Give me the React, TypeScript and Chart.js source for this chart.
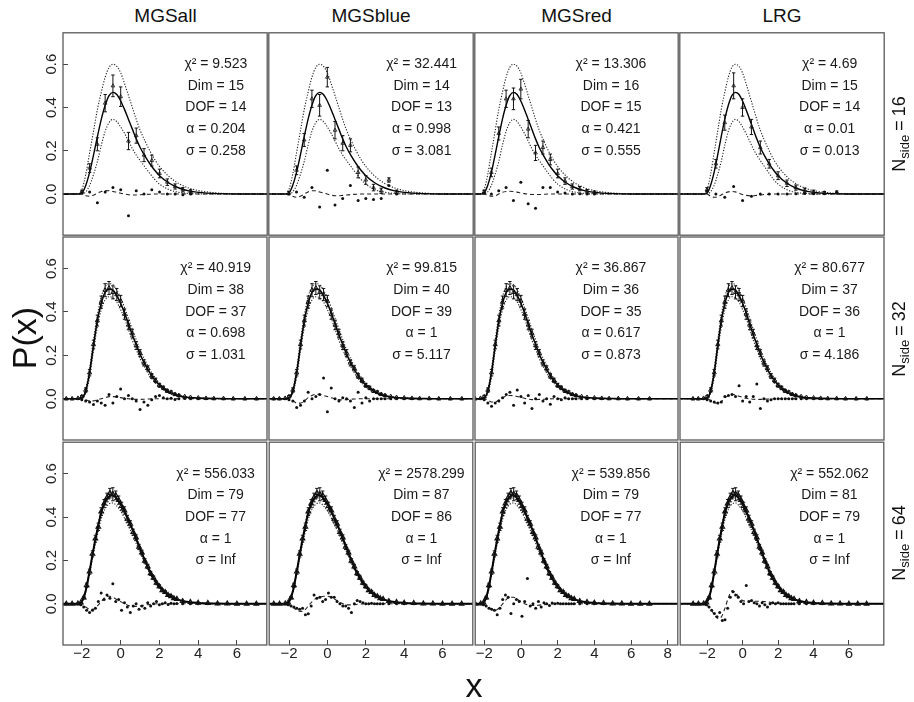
import React, { useEffect, useRef } from "react";
import { Chart, registerables } from "chart.js";

Chart.register(...registerables);

const FONT = '"Liberation Sans", Arial, Helvetica, sans-serif';

// ---------- categories / labels ----------
const groups = ["MGSall", "MGSblue", "MGSred", "LRG"];
const nsides = [16, 32, 64];
const xRanges = [[-2.97, 7.54], [-3.04, 7.58], [-2.5, 8.55], [-3.53, 7.97]];
const yRange = [-0.19, 0.745];
const xTicksByCol = [[-2, 0, 2, 4, 6], [-2, 0, 2, 4, 6], [-2, 0, 2, 4, 6, 8], [-2, 0, 2, 4, 6]];
const yTicks = [0, 0.2, 0.4, 0.6];

// annotation values (row-major: rows N=16,32,64; cols MGSall, MGSblue, MGSred, LRG)
const chi2Vals = ["9.523", "32.441", "13.306", "4.69", "40.919", "99.815", "36.867", "80.677", "556.033", "2578.299", "539.856", "552.062"];
const dimVals = [15, 14, 16, 15, 38, 40, 36, 37, 79, 87, 79, 81];
const dofVals = [14, 13, 15, 14, 37, 39, 35, 36, 77, 86, 77, 79];
const alphaVals = ["0.204", "0.998", "0.421", "0.01", "0.698", "1", "0.617", "1", "1", "1", "1", "1"];
const sigmaVals = ["0.258", "3.081", "0.555", "0.013", "1.031", "5.117", "0.873", "4.186", "Inf", "Inf", "Inf", "Inf"];
const labelX = 4.9;
const labelYs = [0.6, 0.5, 0.4, 0.3, 0.2];

// ---------- curves (fit, envelopes, smoothed residual) ----------
const curveX = [-3.6, -2.4, -2.2, -2.0, -1.8, -1.6, -1.4, -1.2, -1.0, -0.8, -0.6, -0.4, -0.2, 0.0, 0.2, 0.4, 0.6, 0.8, 1.0, 1.25, 1.5, 1.75, 2.0, 2.5, 3.0, 3.5, 4.0, 5.0, 6.0, 7.0, 9.0];

const fitR1 = [0, 0, 0, 0.005, 0.04, 0.1, 0.18, 0.265, 0.345, 0.41, 0.455, 0.47, 0.46, 0.43, 0.39, 0.345, 0.3, 0.255, 0.215, 0.175, 0.14, 0.11, 0.085, 0.05, 0.028, 0.015, 0.008, 0.002, 0, 0, 0];
const upperR1 = [0, 0, 0, 0.02, 0.09, 0.19, 0.29, 0.39, 0.47, 0.54, 0.585, 0.6, 0.59, 0.56, 0.51, 0.455, 0.4, 0.345, 0.295, 0.245, 0.2, 0.16, 0.128, 0.08, 0.048, 0.028, 0.016, 0.005, 0.001, 0, 0];
const lowerR1 = [0, 0, 0, 0, 0.01, 0.04, 0.09, 0.15, 0.225, 0.29, 0.33, 0.345, 0.335, 0.31, 0.28, 0.245, 0.21, 0.18, 0.155, 0.125, 0.095, 0.068, 0.046, 0.02, 0.008, 0.003, 0.001, 0, 0, 0, 0];

const fitR2 = [0, 0, 0, 0.004, 0.035, 0.12, 0.245, 0.36, 0.44, 0.49, 0.505, 0.5, 0.475, 0.44, 0.395, 0.345, 0.295, 0.25, 0.205, 0.16, 0.12, 0.088, 0.063, 0.03, 0.014, 0.006, 0.003, 0.001, 0, 0, 0];
const upperR2 = [0, 0, 0, 0.006, 0.045, 0.14, 0.27, 0.385, 0.47, 0.515, 0.53, 0.525, 0.5, 0.465, 0.42, 0.37, 0.32, 0.272, 0.225, 0.178, 0.135, 0.1, 0.072, 0.036, 0.017, 0.008, 0.004, 0.001, 0, 0, 0];
const lowerR2 = [0, 0, 0, 0.002, 0.025, 0.1, 0.22, 0.33, 0.41, 0.455, 0.47, 0.465, 0.445, 0.41, 0.37, 0.32, 0.27, 0.228, 0.185, 0.142, 0.105, 0.076, 0.054, 0.025, 0.011, 0.005, 0.002, 0, 0, 0, 0];

const fitR3 = [0, 0, 0, 0.01, 0.06, 0.15, 0.25, 0.34, 0.42, 0.47, 0.495, 0.5, 0.485, 0.46, 0.425, 0.385, 0.345, 0.3, 0.255, 0.2, 0.15, 0.11, 0.078, 0.038, 0.018, 0.008, 0.004, 0.001, 0, 0, 0];
const upperR3 = [0, 0, 0, 0.011, 0.063, 0.155, 0.258, 0.35, 0.433, 0.484, 0.51, 0.515, 0.5, 0.474, 0.438, 0.397, 0.355, 0.309, 0.263, 0.206, 0.155, 0.113, 0.08, 0.039, 0.019, 0.008, 0.004, 0.001, 0, 0, 0];
const lowerR3 = [0, 0, 0, 0.008, 0.052, 0.138, 0.232, 0.316, 0.39, 0.437, 0.46, 0.465, 0.451, 0.428, 0.395, 0.358, 0.321, 0.279, 0.237, 0.186, 0.14, 0.102, 0.072, 0.035, 0.017, 0.007, 0.004, 0.001, 0, 0, 0];

const dashAllR1 = [0, 0, 0, 0, -0.008, -0.01, -0.005, 0.004, 0.012, 0.016, 0.015, 0.012, 0.008, 0.004, 0.0, -0.003, -0.004, -0.004, -0.003, -0.002, -0.001, 0, 0, 0, 0, 0, 0, 0, 0, 0, 0];
const dashBlueR1 = [0, 0, 0, 0, -0.01, -0.015, -0.01, 0.0, 0.01, 0.015, 0.015, 0.01, 0.005, 0.0, -0.005, -0.008, -0.008, -0.006, -0.004, -0.002, -0.001, 0, 0, 0, 0, 0, 0, 0, 0, 0, 0];
const dashRedR1 = [0, 0, 0, 0, -0.005, -0.01, -0.008, 0.0, 0.008, 0.012, 0.013, 0.012, 0.009, 0.005, 0.002, 0.0, -0.002, -0.002, -0.002, -0.001, 0, 0, 0, 0, 0, 0, 0, 0, 0, 0, 0];
const dashLrgR1 = [0, 0, 0, 0, -0.01, -0.015, -0.012, -0.004, 0.004, 0.01, 0.012, 0.01, 0.004, -0.002, -0.006, -0.008, -0.008, -0.006, -0.004, -0.002, -0.001, 0, 0, 0, 0, 0, 0, 0, 0, 0, 0];
const dashAllR2 = [0, 0, 0, 0, -0.005, -0.01, -0.01, -0.005, 0.0, 0.005, 0.01, 0.01, 0.008, 0.005, 0.002, 0.0, -0.002, -0.003, -0.003, -0.002, -0.001, 0, 0, 0, 0, 0, 0, 0, 0, 0, 0];
const dashBlueR2 = [0, 0, 0, 0, -0.008, -0.02, -0.02, -0.01, 0.005, 0.015, 0.02, 0.02, 0.015, 0.01, 0.005, 0.0, -0.004, -0.005, -0.004, -0.002, -0.001, 0, 0, 0, 0, 0, 0, 0, 0, 0, 0];
const dashRedR2 = [0, 0, 0, 0, -0.006, -0.015, -0.015, -0.006, 0.004, 0.012, 0.015, 0.014, 0.01, 0.006, 0.002, -0.002, -0.004, -0.004, -0.003, -0.002, -0.001, 0, 0, 0, 0, 0, 0, 0, 0, 0, 0];
const dashLrgR2 = [0, 0, 0, 0, -0.008, -0.018, -0.02, -0.012, 0.004, 0.015, 0.02, 0.018, 0.012, 0.006, 0.002, 0.0, -0.002, -0.003, -0.003, -0.002, -0.001, 0, 0, 0, 0, 0, 0, 0, 0, 0, 0];
const dashAllR3 = [0, 0, 0, -0.005, -0.015, -0.025, -0.025, -0.01, 0.01, 0.03, 0.035, 0.03, 0.02, 0.01, 0.0, -0.008, -0.012, -0.012, -0.01, -0.006, -0.003, -0.001, 0, 0, 0, 0, 0, 0, 0, 0, 0];
const dashBlueR3 = [0, 0, 0, -0.005, -0.015, -0.03, -0.035, -0.03, -0.01, 0.01, 0.025, 0.03, 0.035, 0.035, 0.03, 0.02, 0.01, 0.0, -0.005, -0.005, -0.003, -0.001, 0, 0, 0, 0, 0, 0, 0, 0, 0];
const dashRedR3 = [0, 0, 0, -0.005, -0.015, -0.025, -0.03, -0.02, 0.0, 0.02, 0.03, 0.03, 0.02, 0.01, 0.0, -0.005, -0.008, -0.008, -0.006, -0.004, -0.002, 0, 0, 0, 0, 0, 0, 0, 0, 0, 0];
const dashLrgR3 = [0, 0, 0, -0.008, -0.025, -0.05, -0.068, -0.06, -0.02, 0.03, 0.06, 0.05, 0.03, 0.015, 0.012, 0.012, 0.012, 0.012, 0.012, 0.01, 0.008, 0.004, 0.002, 0, 0, 0, 0, 0, 0, 0, 0];

// ---------- binned data points, error bars, residuals ----------
const binsR1 = [-2.0, -1.6, -1.2, -0.8, -0.4, 0.0, 0.4, 0.8, 1.2, 1.6, 2.0, 2.4, 2.8, 3.2, 3.6];
const errR1 = [0.008, 0.02, 0.03, 0.04, 0.05, 0.045, 0.04, 0.035, 0.03, 0.025, 0.02, 0.015, 0.012, 0.01, 0.008];
const dataAllR1 = [0.01, 0.12, 0.23, 0.42, 0.5, 0.45, 0.245, 0.27, 0.18, 0.155, 0.095, 0.055, 0.035, 0.02, 0.012];
const residAllR1 = [0.005, 0.01, -0.04, 0.01, 0.03, 0.02, -0.1, 0.015, 0.0, 0.02, 0.01, 0.0, 0.0, -0.003, 0.0];
const dataBlueR1 = [0.005, 0.11, 0.25, 0.44, 0.41, 0.54, 0.295, 0.235, 0.225, 0.1, 0.065, 0.03, 0.015, 0.065, 0.01];
const residBlueR1 = [0.0, 0.01, -0.015, 0.03, -0.06, 0.11, -0.05, -0.02, 0.04, -0.03, -0.02, -0.025, -0.02, 0.04, 0.0];
const binsR1Red = [-2.0, -1.6, -1.2, -0.8, -0.4, 0.0, 0.4, 0.8, 1.2, 1.6, 2.0, 2.4, 2.8, 3.2, 3.6, 4.0];
const errR1Red = [0.008, 0.02, 0.03, 0.04, 0.05, 0.045, 0.04, 0.035, 0.03, 0.025, 0.02, 0.015, 0.012, 0.01, 0.008, 0.006];
const dataRedR1 = [0.01, 0.1, 0.28, 0.44, 0.44, 0.485, 0.3, 0.19, 0.215, 0.16, 0.095, 0.06, 0.035, 0.025, 0.013, 0.008];
const residRedR1 = [0.005, 0.0, 0.015, 0.03, -0.03, 0.055, -0.045, -0.065, 0.03, 0.03, 0.01, 0.005, 0.0, 0.002, 0.0, 0.0];
const binsR1Lrg = [-2.0, -1.5, -1.0, -0.5, 0.0, 0.5, 1.0, 1.5, 2.0, 2.5, 3.0, 3.5, 4.0, 4.6, 5.3];
const errR1Lrg = [0.01, 0.02, 0.035, 0.06, 0.04, 0.035, 0.03, 0.02, 0.018, 0.015, 0.012, 0.01, 0.008, 0.006, 0.006];
const dataLrgR1 = [0.02, 0.14, 0.33, 0.5, 0.4, 0.31, 0.215, 0.14, 0.085, 0.05, 0.03, 0.018, 0.01, 0.006, 0.008];
const residLrgR1 = [0.015, 0.0, -0.015, 0.035, -0.03, -0.01, 0.0, 0.0, 0.0, 0.0, 0.002, 0.003, 0.002, 0.002, 0.007];

const binsR2 = [-2.8, -2.5, -2.2, -2.0, -1.8, -1.6, -1.4, -1.2, -1.0, -0.8, -0.6, -0.4, -0.2, 0.0, 0.2, 0.4, 0.6, 0.8, 1.0, 1.2, 1.4, 1.6, 1.8, 2.0, 2.2, 2.4, 2.6, 2.8, 3.0, 3.3, 3.6, 4.0, 4.4, 4.8, 5.3, 5.8, 6.4, 7.0];
const dataR2 = [0, 0, 0.002, 0.01, 0.04, 0.12, 0.25, 0.36, 0.445, 0.5, 0.51, 0.49, 0.48, 0.45, 0.39, 0.34, 0.3, 0.245, 0.21, 0.165, 0.14, 0.105, 0.085, 0.062, 0.05, 0.036, 0.03, 0.02, 0.015, 0.01, 0.006, 0.004, 0.002, 0.001, 0.001, 0, 0, 0];
const errR2 = [0.002, 0.002, 0.003, 0.005, 0.01, 0.015, 0.02, 0.025, 0.028, 0.03, 0.03, 0.03, 0.028, 0.026, 0.024, 0.022, 0.02, 0.018, 0.016, 0.014, 0.012, 0.011, 0.01, 0.009, 0.008, 0.007, 0.006, 0.005, 0.005, 0.004, 0.004, 0.003, 0.003, 0.002, 0.002, 0.002, 0.002, 0.002];
const residAllR2 = [0, 0, 0, -0.005, -0.01, -0.015, -0.027, -0.01, -0.02, -0.03, 0.02, -0.02, 0.01, 0.045, 0.0, 0.015, 0.0, -0.01, -0.05, -0.015, -0.03, -0.005, 0.01, 0.015, 0.005, 0.0, 0.002, -0.003, 0.0, 0.001, 0, 0, 0, 0, 0, 0, 0, 0];
const residBlueR2 = [0, 0, 0, -0.005, -0.01, -0.04, -0.03, -0.01, 0.03, 0.0, 0.01, 0.02, 0.095, -0.06, 0.05, 0.0, -0.01, 0.005, 0.0, -0.01, -0.04, 0.03, -0.02, 0.005, -0.01, 0.0, 0.0, 0.0, 0.0, 0, 0, 0, 0, 0, 0, 0, 0, 0];
const residRedR2 = [0, 0, 0, -0.005, -0.02, -0.035, -0.02, -0.01, 0.005, 0.02, 0.03, -0.03, 0.04, 0.01, -0.02, 0.015, -0.045, 0.0, 0.02, -0.01, 0.0, -0.025, 0.01, 0.0, -0.005, 0.005, 0, 0, 0, 0, 0, 0, 0, 0, 0, 0, 0, 0];
const residLrgR2 = [0, 0, 0, -0.005, -0.01, -0.015, -0.02, -0.015, 0.01, 0.015, 0.02, 0.01, 0.06, -0.01, 0.01, -0.015, 0.01, 0.068, -0.045, 0.0, -0.01, -0.005, 0.0, 0.0, 0.0, 0, 0, 0, 0, 0, 0, 0, 0, 0, 0, 0, 0, 0];

const binsR3 = [-2.8, -2.5, -2.2, -2.05, -1.9, -1.75, -1.6, -1.45, -1.3, -1.15, -1.0, -0.85, -0.7, -0.55, -0.4, -0.25, -0.1, 0.05, 0.2, 0.35, 0.5, 0.65, 0.8, 0.95, 1.1, 1.25, 1.4, 1.55, 1.7, 1.85, 2.0, 2.15, 2.3, 2.45, 2.6, 2.75, 2.9, 3.2, 3.6, 4.0, 4.5, 5.0, 5.5, 6.0, 6.5, 7.0];
const dataR3 = [0, 0, 0.001, 0.006, 0.028, 0.085, 0.148, 0.23, 0.3, 0.355, 0.425, 0.462, 0.49, 0.51, 0.505, 0.5, 0.478, 0.45, 0.43, 0.392, 0.368, 0.33, 0.305, 0.262, 0.236, 0.198, 0.172, 0.14, 0.12, 0.096, 0.08, 0.062, 0.054, 0.04, 0.034, 0.025, 0.022, 0.012, 0.008, 0.004, 0.003, 0.001, 0.001, 0, 0, 0];
const errR3 = [0.001, 0.001, 0.001, 0.003, 0.006, 0.01, 0.012, 0.014, 0.016, 0.017, 0.018, 0.019, 0.02, 0.022, 0.03, 0.02, 0.019, 0.018, 0.017, 0.016, 0.015, 0.014, 0.013, 0.012, 0.011, 0.01, 0.01, 0.009, 0.008, 0.008, 0.007, 0.006, 0.006, 0.005, 0.005, 0.004, 0.004, 0.003, 0.003, 0.002, 0.002, 0.001, 0.001, 0.001, 0.001, 0.001];
const residAllR3 = [0, 0, 0, -0.005, -0.015, -0.03, -0.04, -0.03, -0.02, 0.01, 0.05, 0.02, 0.04, 0.025, 0.092, 0.01, 0.02, -0.03, 0.005, -0.015, -0.04, -0.01, 0.0, -0.025, -0.01, -0.02, 0.005, -0.01, 0.0, 0.01, -0.005, 0.0, 0.005, -0.003, 0.002, 0.0, 0.001, 0, 0, 0, 0, 0, 0, 0, 0, 0];
const residBlueR3 = [0, 0, 0, -0.005, -0.01, -0.015, -0.02, -0.025, -0.02, -0.05, -0.046, -0.01, 0.04, 0.025, 0.03, 0.01, 0.02, 0.05, 0.03, 0.03, 0.01, 0.0, -0.01, -0.01, -0.02, -0.04, 0.0, 0.015, 0.01, 0.005, 0.0, 0.0, 0.002, 0, 0, 0, 0, 0, 0, 0, 0, 0, 0, 0, 0, 0];
const residRedR3 = [0, 0, 0, -0.005, -0.01, -0.02, -0.025, -0.03, -0.05, -0.02, 0.02, 0.04, 0.03, -0.045, 0.0, 0.02, 0.01, -0.057, 0.01, 0.117, -0.01, 0.0, -0.02, 0.01, -0.015, 0.005, 0.0, -0.008, 0.004, 0.0, 0.003, 0.0, 0, 0, 0, 0, 0, 0, 0, 0, 0, 0, 0, 0, 0, 0];
const residLrgR3 = [0, 0, 0, -0.005, -0.015, -0.03, -0.045, -0.06, -0.04, -0.077, -0.074, -0.02, 0.03, 0.055, 0.04, 0.03, 0.01, 0.0, 0.084, 0.01, 0.015, 0.005, 0.0, -0.01, 0.005, -0.005, -0.015, 0.0, 0.005, 0.0, 0.005, 0.0, 0, 0, 0, 0, 0, 0, 0, 0, 0, 0, 0, 0, 0, 0];

type PanelSpec = {
  row: number; col: number;
  bins: number[]; data: number[]; err: number[]; resid: number[];
  dash: number[]; fit: number[]; upper: number[]; lower: number[];
};

const panelSpecs: PanelSpec[] = [
  { row: 0, col: 0, bins: binsR1, data: dataAllR1, err: errR1, resid: residAllR1, dash: dashAllR1, fit: fitR1, upper: upperR1, lower: lowerR1 },
  { row: 0, col: 1, bins: binsR1, data: dataBlueR1, err: errR1, resid: residBlueR1, dash: dashBlueR1, fit: fitR1, upper: upperR1, lower: lowerR1 },
  { row: 0, col: 2, bins: binsR1Red, data: dataRedR1, err: errR1Red, resid: residRedR1, dash: dashRedR1, fit: fitR1, upper: upperR1, lower: lowerR1 },
  { row: 0, col: 3, bins: binsR1Lrg, data: dataLrgR1, err: errR1Lrg, resid: residLrgR1, dash: dashLrgR1, fit: fitR1, upper: upperR1, lower: lowerR1 },
  { row: 1, col: 0, bins: binsR2, data: dataR2, err: errR2, resid: residAllR2, dash: dashAllR2, fit: fitR2, upper: upperR2, lower: lowerR2 },
  { row: 1, col: 1, bins: binsR2, data: dataR2, err: errR2, resid: residBlueR2, dash: dashBlueR2, fit: fitR2, upper: upperR2, lower: lowerR2 },
  { row: 1, col: 2, bins: binsR2, data: dataR2, err: errR2, resid: residRedR2, dash: dashRedR2, fit: fitR2, upper: upperR2, lower: lowerR2 },
  { row: 1, col: 3, bins: binsR2, data: dataR2, err: errR2, resid: residLrgR2, dash: dashLrgR2, fit: fitR2, upper: upperR2, lower: lowerR2 },
  { row: 2, col: 0, bins: binsR3, data: dataR3, err: errR3, resid: residAllR3, dash: dashAllR3, fit: fitR3, upper: upperR3, lower: lowerR3 },
  { row: 2, col: 1, bins: binsR3, data: dataR3, err: errR3, resid: residBlueR3, dash: dashBlueR3, fit: fitR3, upper: upperR3, lower: lowerR3 },
  { row: 2, col: 2, bins: binsR3, data: dataR3, err: errR3, resid: residRedR3, dash: dashRedR3, fit: fitR3, upper: upperR3, lower: lowerR3 },
  { row: 2, col: 3, bins: binsR3, data: dataR3, err: errR3, resid: residLrgR3, dash: dashLrgR3, fit: fitR3, upper: upperR3, lower: lowerR3 },
];

// ---------- layout / style ----------
const COL_EDGES = [63, 268, 474, 679, 885];
const ROW_EDGES = [32, 236, 441, 645];
const Y_AXIS_W = 52;
const X_AXIS_H = 32;
const M = 4;
const markerRadiusByRow = [2.1, 2.4, 2.6];
const markerBorderByRow = [0.8, 1.0, 1.2];
const fitWidthByRow = [1.4, 1.6, 2.0];

const xy = (xs: number[], ys: number[]) => xs.map((x, i) => ({ x, y: ys[i] }));

const framePlugin = {
  id: "frame",
  afterDraw(chart: any) {
    const { ctx, chartArea: a } = chart;
    ctx.save();
    ctx.strokeStyle = "#5a5a5a";
    ctx.lineWidth = 1.3;
    ctx.strokeRect(a.left, a.top, a.right - a.left, a.bottom - a.top);
    ctx.restore();
  },
};

const errorPlugin = {
  id: "errbars",
  afterDatasetsDraw(chart: any) {
    const { ctx, chartArea: a, scales } = chart;
    ctx.save();
    ctx.beginPath();
    ctx.rect(a.left, a.top, a.right - a.left, a.bottom - a.top);
    ctx.clip();
    ctx.strokeStyle = "#111";
    ctx.lineWidth = 1;
    chart.data.datasets.forEach((ds: any) => {
      const errs = ds.errors;
      if (!errs) return;
      ds.data.forEach((p: any, i: number) => {
        const e = errs[i];
        const px = scales.x.getPixelForValue(p.x);
        const y1 = scales.y.getPixelForValue(p.y - e);
        const y2 = scales.y.getPixelForValue(p.y + e);
        if (Math.abs(y1 - y2) < 2) return;
        ctx.beginPath();
        ctx.moveTo(px, y1);
        ctx.lineTo(px, y2);
        ctx.moveTo(px - 1.7, y1);
        ctx.lineTo(px + 1.7, y1);
        ctx.moveTo(px - 1.7, y2);
        ctx.lineTo(px + 1.7, y2);
        ctx.stroke();
      });
    });
    ctx.restore();
  },
};

const textPlugin = {
  id: "panelText",
  afterDraw(chart: any, _args: any, opts: any) {
    if (!opts || !opts.lines) return;
    const { ctx, scales } = chart;
    ctx.save();
    ctx.font = `14px ${FONT}`;
    ctx.fillStyle = "#1a1a1a";
    ctx.textAlign = "center";
    ctx.textBaseline = "middle";
    opts.lines.forEach((t: string, i: number) => {
      ctx.fillText(t, scales.x.getPixelForValue(opts.x), scales.y.getPixelForValue(opts.ys[i]));
    });
    ctx.restore();
  },
};

function makeConfig(p: PanelSpec): any {
  const idx = p.row * 4 + p.col;
  const showY = p.col === 0;
  const showX = p.row === 2;
  const [xmin, xmax] = xRanges[p.col];
  const lineBase = { showLine: true, pointRadius: 0, pointHoverRadius: 0, fill: false, cubicInterpolationMode: "monotone" };
  const lines = [
    `χ² = ${chi2Vals[idx]}`,
    `Dim = ${dimVals[idx]}`,
    `DOF = ${dofVals[idx]}`,
    `α = ${alphaVals[idx]}`,
    `σ = ${sigmaVals[idx]}`,
  ];
  const gridOpts = { display: true, drawOnChartArea: false, drawTicks: true, tickLength: -5, color: "#444", lineWidth: 1 };
  return {
    type: "scatter",
    data: {
      datasets: [
        {
          data: xy(p.bins, p.data), errors: p.err, showLine: false,
          pointStyle: "triangle", pointRadius: markerRadiusByRow[p.row], pointBorderWidth: markerBorderByRow[p.row],
          pointBorderColor: "#111", pointBackgroundColor: "rgba(0,0,0,0)",
        },
        {
          data: xy(p.bins, p.resid), showLine: false,
          pointStyle: "circle", pointRadius: 1.5, pointBorderWidth: 0,
          pointBackgroundColor: "#111", pointBorderColor: "#111",
        },
        { ...lineBase, data: xy(curveX, p.fit), borderColor: "#000", borderWidth: fitWidthByRow[p.row] },
        { ...lineBase, data: xy(curveX, p.upper), borderColor: "#222", borderWidth: 1.1, borderDash: [1.2, 1.6] },
        { ...lineBase, data: xy(curveX, p.lower), borderColor: "#222", borderWidth: 1.1, borderDash: [1.2, 1.6] },
        { ...lineBase, data: xy(curveX, p.dash), borderColor: "#222", borderWidth: 1.1, borderDash: [4, 3] },
      ],
    },
    options: {
      animation: false,
      responsive: false,
      events: [],
      layout: { padding: { left: showY ? 0 : M, right: M, top: M, bottom: showX ? 0 : M } },
      plugins: {
        legend: { display: false },
        tooltip: { enabled: false },
        panelText: { lines, x: labelX, ys: labelYs },
      },
      scales: {
        x: {
          type: "linear", min: xmin, max: xmax, display: showX, position: "bottom",
          afterBuildTicks: (s: any) => { s.ticks = xTicksByCol[p.col].map((v) => ({ value: v })); },
          ticks: {
            font: { family: FONT, size: 15 }, color: "#222", padding: 5, maxRotation: 0, minRotation: 0, autoSkip: false,
            callback: (v: any) => (Number(v) < 0 ? "\u2212" + Math.abs(Number(v)) : String(v)),
          },
          grid: gridOpts,
          border: { display: false },
          afterFit: (s: any) => {
            if (showX) s.height = X_AXIS_H;
            s.paddingLeft = 0; s.paddingRight = 0; s.paddingTop = 0; s.paddingBottom = 0;
          },
        },
        y: {
          type: "linear", min: yRange[0], max: yRange[1], display: showY, position: "left",
          afterBuildTicks: (s: any) => { s.ticks = yTicks.map((v) => ({ value: v })); },
          ticks: {
            font: { family: FONT, size: 15 }, color: "#222", padding: 6,
            minRotation: 90, maxRotation: 90, crossAlign: "center",
            callback: (v: any) => Number(v).toFixed(1),
          },
          grid: gridOpts,
          border: { display: false },
          afterFit: (s: any) => {
            if (showY) s.width = Y_AXIS_W;
            s.paddingLeft = 0; s.paddingRight = 0; s.paddingTop = 0; s.paddingBottom = 0;
          },
        },
      },
    },
    plugins: [framePlugin, errorPlugin, textPlugin],
  };
}

function Panel({ p }: { p: PanelSpec }) {
  const ref = useRef<HTMLCanvasElement | null>(null);
  const L = p.col === 0 ? Y_AXIS_W : M;
  const B = p.row === 2 ? X_AXIS_H : M;
  const left = COL_EDGES[p.col] - L;
  const top = ROW_EDGES[p.row] - M;
  const w = COL_EDGES[p.col + 1] - COL_EDGES[p.col] + L + M;
  const h = ROW_EDGES[p.row + 1] - ROW_EDGES[p.row] + M + B;
  useEffect(() => {
    if (!ref.current) return;
    const chart = new Chart(ref.current, makeConfig(p));
    return () => chart.destroy();
  }, []);
  return (
    <canvas
      ref={ref}
      width={w}
      height={h}
      style={{ position: "absolute", left, top, width: w, height: h }}
    />
  );
}

export default function App() {
  const rowCenters = [0, 1, 2].map((r) => (ROW_EDGES[r] + ROW_EDGES[r + 1]) / 2);
  const colCenters = [0, 1, 2, 3].map((c) => (COL_EDGES[c] + COL_EDGES[c + 1]) / 2);
  return (
    <div style={{ position: "absolute", left: 0, top: 0, width: 914, height: 702, background: "#fff", overflow: "hidden", fontFamily: FONT, color: "#111" }}>
      {panelSpecs.map((p) => (
        <Panel key={`${p.row}-${p.col}`} p={p} />
      ))}
      {groups.map((g, c) => (
        <div key={g} style={{ position: "absolute", left: colCenters[c] - 100, top: 6, width: 200, textAlign: "center", fontSize: 19, lineHeight: "20px" }}>
          {g}
        </div>
      ))}
      {nsides.map((n, r) => (
        <div
          key={n}
          style={{
            position: "absolute", left: 899 - 70, top: rowCenters[r] - 12, width: 140, height: 24,
            lineHeight: "24px", textAlign: "center", fontSize: 18, whiteSpace: "nowrap", transform: "rotate(-90deg)",
          }}
        >
          N<span style={{ fontSize: 13, position: "relative", top: 4 }}>side</span>
          <span style={{ margin: "0 4px" }}>=</span>
          {n}
        </div>
      ))}
      <div style={{ position: "absolute", left: 24 - 60, top: 338 - 20, width: 120, height: 40, lineHeight: "40px", textAlign: "center", fontSize: 34, transform: "rotate(-90deg)" }}>
        P(x)
      </div>
      <div style={{ position: "absolute", left: 474 - 30, top: 665, width: 60, height: 40, lineHeight: "40px", textAlign: "center", fontSize: 34 }}>
        x
      </div>
    </div>
  );
}
